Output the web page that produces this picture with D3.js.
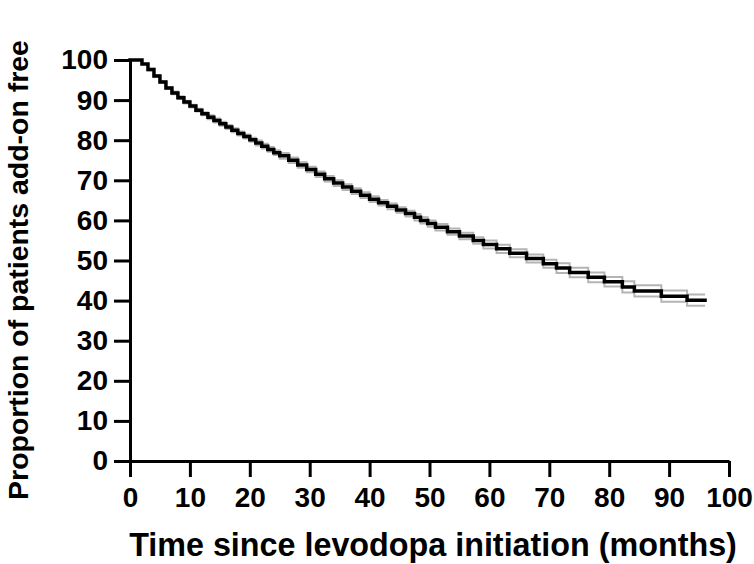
<!DOCTYPE html>
<html>
<head>
<meta charset="utf-8">
<script src="https://cdn.jsdelivr.net/npm/d3@7"></script>
<style>
  html, body { margin: 0; padding: 0; background: #fff; }
  svg text { font-family: "Liberation Sans", Arial, Helvetica, sans-serif; font-weight: bold; fill: #000; }
</style>
</head>
<body>
<svg id="chart" width="754" height="564"></svg>
<script>
// ---- data ----
const stepTimes = [0,2,3,4,5,6,7,8,9,10,11,12,13,14,15,16,17,18,19,20,21,22,23,24,
  25,26.5,28,29.5,31,32.5,34,35.5,37,38.5,40,41.5,43,44.5,46,47.5,48.5,49.7,51,53,
  55,57.3,59,61.2,63.4,66.2,69,71.2,73.4,76.5,79.2,82.2,84.2,88.7,93];
const endTime = 96;
const survival = [100,99.0,97.6,96.0,94.5,93.0,91.8,90.6,89.5,88.5,87.5,86.6,85.7,84.9,84.1,83.3,82.5,81.7,80.9,80.1,79.3,78.5,77.7,76.9,
  76.1,75.0,73.8,72.7,71.5,70.4,69.3,68.3,67.3,66.3,65.3,64.4,63.5,62.6,61.7,60.8,60.0,59.2,58.3,57.2,
  56.1,55.0,54.0,52.9,51.8,50.5,49.2,48.1,47.0,45.8,44.7,43.4,42.4,41.1,40.1];
const upperCI = [100,99.0,97.8,96.2,94.7,93.2,92.15,90.95,89.85,88.85,87.85,86.95,86.2,85.4,84.6,83.8,83.0,82.2,81.4,80.6,79.9,79.1,78.3,77.5,
  76.8,75.7,74.5,73.4,72.2,71.1,70.0,69.0,68.0,67.0,66.0,65.1,64.2,63.3,62.4,61.6,60.8,60.0,59.1,58.0,
  56.9,55.8,55.0,53.9,52.8,51.5,50.2,49.3,48.2,47.0,45.9,44.8,43.8,42.5,41.5];
const lowerCI = [100,99.0,97.4,95.8,94.3,92.8,91.45,90.25,89.15,88.15,87.15,86.25,85.2,84.4,83.6,82.8,82.0,81.2,80.4,79.6,78.7,77.9,77.1,76.3,
  75.4,74.3,73.1,72.0,70.8,69.7,68.6,67.6,66.6,65.6,64.6,63.7,62.8,61.9,61.0,60.0,59.2,58.4,57.5,56.4,
  55.3,54.2,53.0,51.9,50.8,49.5,48.2,46.9,45.8,44.6,43.5,42.0,41.0,39.7,38.7];
const xTicks = [0,10,20,30,40,50,60,70,80,90,100];
const yTicks = [0,10,20,30,40,50,60,70,80,90,100];
const xTitle = "Time since levodopa initiation (months)";
const yTitle = "Proportion of patients add-on free";

// ---- layout ----
const svg = d3.select("#chart");
const x = d3.scaleLinear().domain([0, 100]).range([130, 729]);
const y = d3.scaleLinear().domain([0, 100]).range([461, 60]);

function series(vals) {
  const pts = stepTimes.map((t, i) => [t, vals[i]]);
  pts.push([endTime, vals[vals.length - 1]]);
  return pts;
}
const line = d3.line().x(d => x(d[0])).y(d => y(d[1])).curve(d3.curveStepAfter);

// CI lines
[upperCI, lowerCI].forEach(v => {
  svg.append("path").datum(series(v))
    .attr("d", line).attr("fill", "none")
    .attr("stroke", "#b4b4b4").attr("stroke-width", 2);
});
// main KM line
svg.append("path").datum(series(survival))
  .attr("d", line).attr("fill", "none")
  .attr("stroke", "#000").attr("stroke-width", 3.5)
  .attr("stroke-linejoin", "miter").attr("stroke-linecap", "square");

// axes
const xAxis = svg.append("g").attr("transform", `translate(0,${y(0)})`)
  .call(d3.axisBottom(x).tickValues(xTicks).tickSize(16).tickPadding(10).tickSizeOuter(0));
const yAxis = svg.append("g").attr("transform", `translate(${x(0)},0)`)
  .call(d3.axisLeft(y).tickValues(yTicks).tickSize(16).tickPadding(6).tickSizeOuter(0));
[xAxis, yAxis].forEach(g => {
  g.select(".domain").attr("stroke", "#000").attr("stroke-width", 3);
  g.selectAll(".tick line").attr("stroke", "#000").attr("stroke-width", 3);
  g.selectAll(".tick text").style("font-size", "28px").attr("fill", "#000");
});
xAxis.selectAll(".tick text").attr("dy", "0.71em");

// titles
const xt = svg.append("text").attr("x", 433).attr("y", 556)
  .attr("text-anchor", "middle").style("font-size", "28px").text(xTitle);
const yt = svg.append("text").attr("transform", "translate(28,270) rotate(-90)")
  .attr("text-anchor", "middle").style("font-size", "28px").text(yTitle);
// fit widths to reference
function fit(el, target) {
  const w = el.node().getComputedTextLength();
  el.style("font-size", (28 * target / w).toFixed(2) + "px");
}
fit(xt, 608);
fit(yt, 460);
</script>
</body>
</html>
